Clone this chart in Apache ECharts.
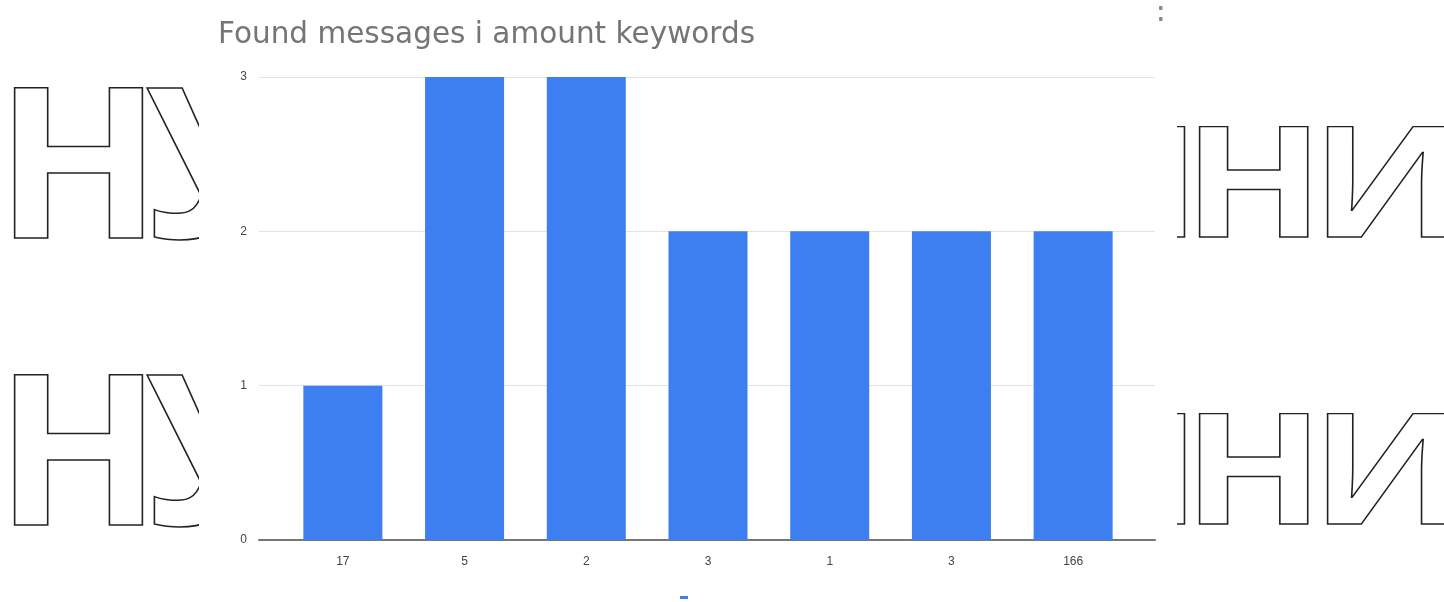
<!DOCTYPE html>
<html><head><meta charset="utf-8">
<script src="https://cdn.jsdelivr.net/npm/echarts@6/dist/echarts.min.js"></script>
<style>html,body{margin:0;padding:0;background:#fff}#c{width:1444px;height:602px}</style>
</head><body><div id="c"></div>
<script>
const titleText = 'Found messages i amount keywords';
const categories = ['17', '5', '2', '3', '1', '3', '166'];
const values = [1, 3, 3, 2, 2, 2, 2];
const yTicks = [0, 1, 2, 3];
const seriesName = ' ';
const watermarkLeft = ['Н', 'У'];
const watermarkRight = ['Й', 'Н', 'И'];

const chart = echarts.init(document.getElementById('c'), null, {renderer: 'canvas'});

function wmLetter(ch, x, y, size, sx) {
  return {type: 'text', z: -10, x: x, y: y, scaleX: sx,
    style: {text: ch, x: 0, y: 0, font: 'bold ' + size + 'px "Open Sans"', fill: 'rgba(0,0,0,0)', stroke: '#222', lineWidth: 1.6 / sx, lineJoin: 'round', textAlign: 'left', textVerticalAlign: 'top'}};
}
const wmEls = [];
[0, 287].forEach(function (dy) {
  wmEls.push(wmLetter(watermarkLeft[0], -5, 73 + dy, 210, 1.04));
  wmEls.push(wmLetter(watermarkLeft[1], 145, 73 + dy, 210, 1.04));
  wmEls.push(wmLetter(watermarkRight[0], 1049, 116 + dy, 154, 1.2));
  wmEls.push(wmLetter(watermarkRight[1], 1183, 116 + dy, 154, 1.2));
  wmEls.push(wmLetter(watermarkRight[2], 1311, 116 + dy, 154, 1.2));
});
wmEls.push({type: 'rect', z: -5, shape: {x: 199, y: 0, width: 978, height: 602}, style: {fill: '#fff'}});
wmEls.push({type: 'text', z: -4, style: {text: '⋮', x: 1161, y: -6, font: '32px "DejaVu Sans"', fill: '#888', textAlign: 'center'}});

chart.setOption({
  backgroundColor: '#fff',
  animation: false,
  title: {text: titleText, left: 213, top: 15, textStyle: {fontFamily: '"DejaVu Sans"', fontSize: 29.5, fontWeight: 'normal', color: '#757575'}},
  legend: {show: true, data: [seriesName], left: 675, top: 591, icon: 'rect', itemWidth: 8, itemHeight: 3, formatter: function(){return '';}, textStyle: {fontSize: 1}},
  graphic: wmEls,
  grid: [
    {left: 259, right: 289, top: 77, bottom: 62},
    {left: 282, right: 310, top: 77, bottom: 62}
  ],
  xAxis: [
    {gridIndex: 0, type: 'category', data: categories, z: 5, axisLine: {show: true, lineStyle: {color: '#777', width: 2}}, axisTick: {show: false}, axisLabel: {show: false}},
    {gridIndex: 1, type: 'category', data: categories, z: 5, axisLine: {show: false}, axisTick: {show: false},
      axisLabel: {margin: 16, fontFamily: '"Liberation Sans", Arial', fontSize: 12, color: '#444'}}
  ],
  yAxis: [
    {gridIndex: 0, type: 'value', min: yTicks[0], max: yTicks[yTicks.length - 1], interval: 1, z: 4,
      axisLine: {show: false}, axisTick: {show: false},
      axisLabel: {margin: 12, fontFamily: '"Liberation Sans", Arial', fontSize: 12, color: '#444'},
      splitLine: {lineStyle: {color: '#e3e3e3', width: 1}}},
    {gridIndex: 1, type: 'value', min: yTicks[0], max: yTicks[yTicks.length - 1], interval: 1, show: false, splitLine: {show: false}}
  ],
  series: [{
    name: seriesName, type: 'bar', xAxisIndex: 1, yAxisIndex: 1, data: values, barWidth: 79, z: 6,
    itemStyle: {color: '#3d7ff0'}
  }]
});
</script></body></html>
